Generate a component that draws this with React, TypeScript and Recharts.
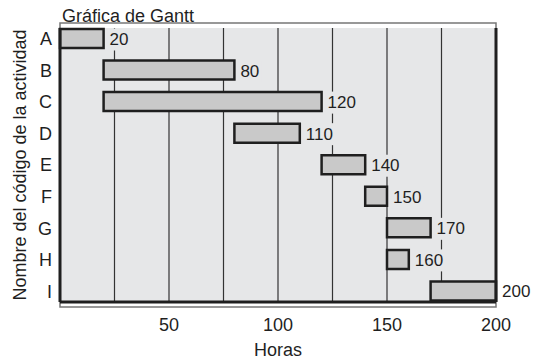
import {
  Bar,
  BarChart,
  CartesianGrid,
  LabelList,
  ReferenceArea,
  ReferenceLine,
  XAxis,
  YAxis,
} from 'recharts'

const ACTIVITIES = ['A', 'B', 'C', 'D', 'E', 'F', 'G', 'H', 'I']
const STARTS = [0, 20, 20, 80, 120, 140, 150, 150, 170]
const ENDS = [20, 80, 120, 110, 140, 150, 170, 160, 200]
const GRID_TICKS = [0, 25, 50, 75, 100, 125, 150, 175, 200]
const LABELED_TICKS = [50, 100, 150, 200]

const PLOT_BG = '#e6e7e8'
const INK = '#1f1f1f'
const FONT = '"Liberation Sans", Arial, Helvetica, sans-serif'

const data = ACTIVITIES.map((name, i) => ({
  name,
  range: [STARTS[i], ENDS[i]],
  end: ENDS[i],
}))

function EndLabel(props: any) {
  const { x, y, width, height, value } = props
  const tx = x + width + 6
  const cy = y + height / 2 + 1
  const w = String(value).length * 9.5 + 4
  const outside = value >= 200
  return (
    <g>
      <rect x={tx - 2} y={cy - 11} width={w} height={22} fill={outside ? '#fff' : PLOT_BG} />
      <text
        x={tx}
        y={cy}
        dominantBaseline="central"
        fontSize={17}
        fontFamily={FONT}
        fill={INK}
      >
        {value}
      </text>
    </g>
  )
}

export default function App() {
  return (
    <div style={{ position: 'fixed', left: 0, top: 0, width: 536, height: 360, background: '#fff' }}>
      <div
        style={{
          position: 'absolute',
          left: 62,
          top: 7,
          fontFamily: FONT,
          fontSize: 18,
          lineHeight: '18px',
          color: INK,
        }}
      >
        Gráfica de Gantt
      </div>
      <BarChart
        width={536}
        height={360}
        data={data}
        layout="vertical"
        margin={{ top: 28, right: 40, bottom: 0, left: 0 }}
      >
        <CartesianGrid horizontal={false} stroke="#333" strokeWidth={1.2} fill={PLOT_BG} fillOpacity={1} />
        <ReferenceArea x1={0} x2={200} fill="none" stroke="#777" strokeWidth={1.5} />
        <XAxis
          type="number"
          domain={[0, 200]}
          ticks={GRID_TICKS}
          tickFormatter={(v: number) => (LABELED_TICKS.includes(v) ? String(v) : '')}
          tickLine={false}
          tickSize={0}
          tickMargin={16}
          height={58}
          axisLine={{ stroke: INK, strokeWidth: 3 }}
          tick={{ fill: INK, fontSize: 18, fontFamily: FONT }}
          label={{
            value: 'Horas',
            position: 'insideBottom',
            offset: 4,
            fill: INK,
            fontSize: 18,
            fontFamily: FONT,
          }}
        />
        <YAxis
          type="category"
          dataKey="name"
          width={60}
          tickLine={false}
          tickSize={0}
          tickMargin={8}
          padding={{ top: -5, bottom: -5 }}
          axisLine={{ stroke: INK, strokeWidth: 3 }}
          tick={{ fill: INK, fontSize: 18, fontFamily: FONT }}
          label={{
            value: 'Nombre del código de la actividad',
            angle: -90,
            position: 'insideLeft',
            offset: 20,
            style: { textAnchor: 'middle' },
            fill: INK,
            fontSize: 18,
            fontFamily: FONT,
          }}
        />
        <ReferenceLine x={200} stroke={INK} strokeWidth={3} />
        <Bar
          dataKey="range"
          barSize={19}
          fill="#c9c9c9"
          stroke={INK}
          strokeWidth={2.5}
          isAnimationActive={false}
        >
          <LabelList dataKey="end" content={EndLabel} />
        </Bar>
      </BarChart>
    </div>
  )
}
